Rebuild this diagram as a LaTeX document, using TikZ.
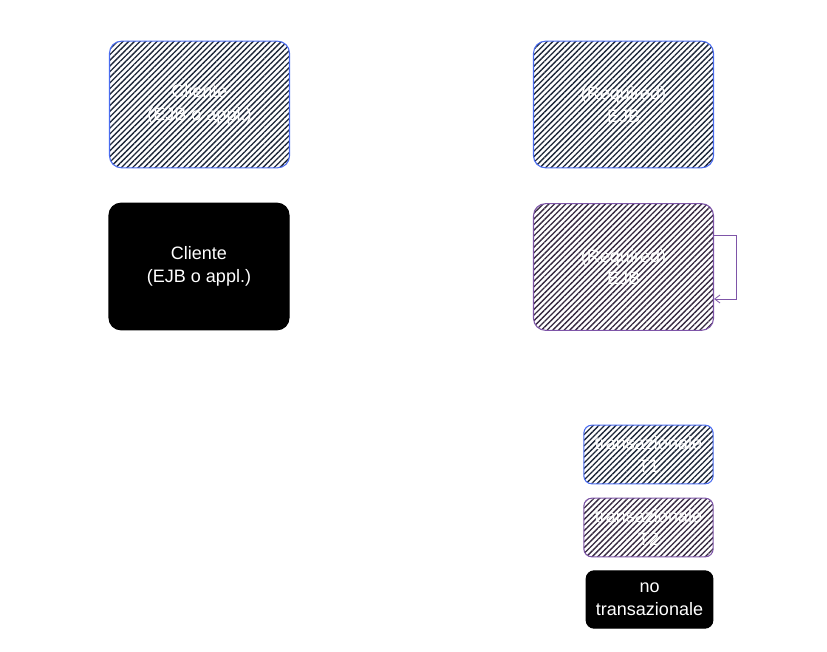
\documentclass[tikz,border=0pt]{standalone}
\usepackage{fontspec}
\setmainfont{Liberation Sans}
\usetikzlibrary{arrows.meta,patterns.meta}
\definecolor{txblue}{HTML}{4A6CF0}
\definecolor{txpurple}{HTML}{7E55A8}
\definecolor{inkblue}{HTML}{1C2638}
\definecolor{inkpurple}{HTML}{35283F}

\begin{document}
\begin{tikzpicture}[
    x=0.75pt, y=-0.75pt,
    font=\fontsize{13.5}{17}\selectfont, line width=0.8pt,
    box/.style={rounded corners=9pt,align=center,text=white,inner sep=2pt,
        minimum width=135pt,minimum height=95pt},
    legbox/.style={box,rounded corners=6pt,minimum width=97pt,minimum height=44pt},
    hatchblue/.style={draw=txblue,pattern={Lines[angle=45,distance=3pt,line width=1pt]},pattern color=inkblue},
    hatchpurple/.style={draw=txpurple,pattern={Lines[angle=45,distance=3pt,line width=1pt]},pattern color=inkpurple},
    solid/.style={draw=black,fill=black},
    loop/.style={draw=txpurple,line width=0.6pt,-{Straight Barb[length=4pt,width=6pt]}}
]
\path[use as bounding box] (0,0) rectangle (827,651);

\node[box,hatchblue] (cliTx) at (199.5,104.5) {Cliente\\(EJB o appl.)};
\node[box,hatchblue] (ejbTx) at (623.5,104.5) {(Required)\\EJB};
\node[box,solid] (cliNoTx) at (199,266.5) {Cliente\\(EJB o appl.)};
\node[box,hatchpurple] (ejbNoTx) at (623.5,267) {(Required)\\EJB};
% the EJB opens its own transaction when the caller has none
\draw[loop] ([yshift=24pt]ejbNoTx.east) -- ++(22,0) |- ([yshift=-24pt]ejbNoTx.east);

\node[legbox,hatchblue] (legT1) at (648.5,454.5) {transazionale\\T1};
\node[legbox,hatchpurple] (legT2) at (648.5,527.5) {transazionale\\T2};
\node[legbox,solid,minimum width=95pt,minimum height=43pt] (legNo) at (649.5,599.5) {no\\transazionale};
\end{tikzpicture}
\end{document}
